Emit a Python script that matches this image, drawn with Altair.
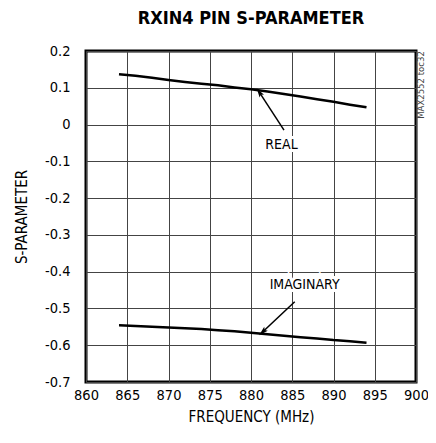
import altair as alt
import pandas as pd

freq = [864, 866, 868, 870, 872, 874, 876, 878, 880, 882, 884, 886, 888, 890, 892, 894]
real = [0.137, 0.133, 0.127, 0.121, 0.116, 0.111, 0.107, 0.101, 0.096, 0.090, 0.083, 0.076, 0.069, 0.062, 0.054, 0.047]
imag = [-0.546, -0.548, -0.550, -0.552, -0.554, -0.556, -0.559, -0.562, -0.566, -0.570, -0.574, -0.578, -0.582, -0.586, -0.589, -0.593]

x_ticks = [860, 865, 870, 875, 880, 885, 890, 895, 900]
y_ticks = [0.2, 0.1, 0.0, -0.1, -0.2, -0.3, -0.4, -0.5, -0.6, -0.7]

labels = ["REAL", "IMAGINARY"]
label_x = [883.7, 886.5]
label_y = [-0.056, -0.436]
arrow_tail_x = [884.0, 885.3]
arrow_tail_y = [-0.015, -0.482]
arrow_tip_x = [881.0, 881.4]
arrow_tip_y = [0.088, -0.564]
arrow_angle = [327, 227]

FONT = "DejaVu Sans Condensed, Roboto, sans-serif"

df = pd.DataFrame({
    "freq": freq * 2,
    "value": real + imag,
    "series": ["Real"] * len(freq) + ["Imaginary"] * len(freq),
})

xs = alt.Scale(domain=[860, 900], nice=False, zero=False)
ys = alt.Scale(domain=[-0.7, 0.2], nice=False, zero=False)

xax = alt.Axis(values=x_ticks, title="FREQUENCY (MHz)", grid=True, ticks=False,
               labelPadding=6, titlePadding=8, domain=False, labelOverlap=False,
               labelFlush=False)
yax = alt.Axis(values=y_ticks, title="S-PARAMETER", grid=True, ticks=False,
               labelPadding=16, titlePadding=15, domain=False, labelOverlap=False,
               labelFlush=False,
               labelExpr="datum.value == 0 ? '0' : replace(format(datum.value, '.1f'), '\u2212', '-')")

lines = alt.Chart(df).mark_line(color="black", strokeWidth=2.5).encode(
    x=alt.X("freq:Q", scale=xs, axis=xax),
    y=alt.Y("value:Q", scale=ys, axis=yax),
    detail="series:N",
)

ann = pd.DataFrame({
    "label": labels, "lx": label_x, "ly": label_y,
    "tx": arrow_tail_x, "ty": arrow_tail_y,
    "hx": arrow_tip_x, "hy": arrow_tip_y, "ang": arrow_angle,
})

text = alt.Chart(ann).mark_text(font=FONT, fontSize=14, color="black").encode(
    x=alt.X("lx:Q", scale=xs, axis=xax), y=alt.Y("ly:Q", scale=ys, axis=yax),
    text="label:N")

text_bg = alt.Chart(ann).mark_text(font=FONT, fontSize=14, stroke="white",
                                   strokeWidth=6, color="white").encode(
    x=alt.X("lx:Q", scale=xs, axis=xax), y=alt.Y("ly:Q", scale=ys, axis=yax),
    text="label:N")

shafts = alt.Chart(ann).mark_rule(color="black", strokeWidth=1.5).encode(
    x=alt.X("tx:Q", scale=xs, axis=xax), y=alt.Y("ty:Q", scale=ys, axis=yax),
    x2="hx:Q", y2="hy:Q")

heads = alt.Chart(ann).mark_point(
    shape="M0,-1L0.55,1L0,0.6L-0.55,1Z", filled=True, color="black",
    size=90, opacity=1
).encode(
    x=alt.X("hx:Q", scale=xs, axis=xax), y=alt.Y("hy:Q", scale=ys, axis=yax),
    angle=alt.Angle("ang:Q", scale=None),
)

side = alt.Chart(pd.DataFrame({"t": ["MAX2552 toc32"]})).mark_text(
    font=FONT, fontSize=9.5, color="#444", angle=270, align="center", baseline="middle"
).encode(x=alt.value(335), y=alt.value(34), text="t:N")

chart = alt.layer(lines, shafts, heads, text_bg, text, side).properties(
    width=330, height=331,
    background="white",
    title=alt.TitleParams("RXIN4 PIN S-PARAMETER", font=FONT, fontSize=18,
                          fontWeight="bold", anchor="middle", offset=15),
    autosize=alt.AutoSizeParams(type="none"),
    padding={"left": 78, "top": 43, "right": 12, "bottom": 53},
).configure_view(
    stroke="black", strokeWidth=3
).configure_axis(
    gridColor="#444", gridWidth=1, gridOpacity=1, labelOverlap=False,
    labelFont=FONT, titleFont=FONT, labelFontSize=14.5, titleFontSize=15,
    labelColor="black", titleColor="black", titleFontWeight="normal",
)

chart.save("out.html", embed_options={"renderer": "svg", "actions": False})
